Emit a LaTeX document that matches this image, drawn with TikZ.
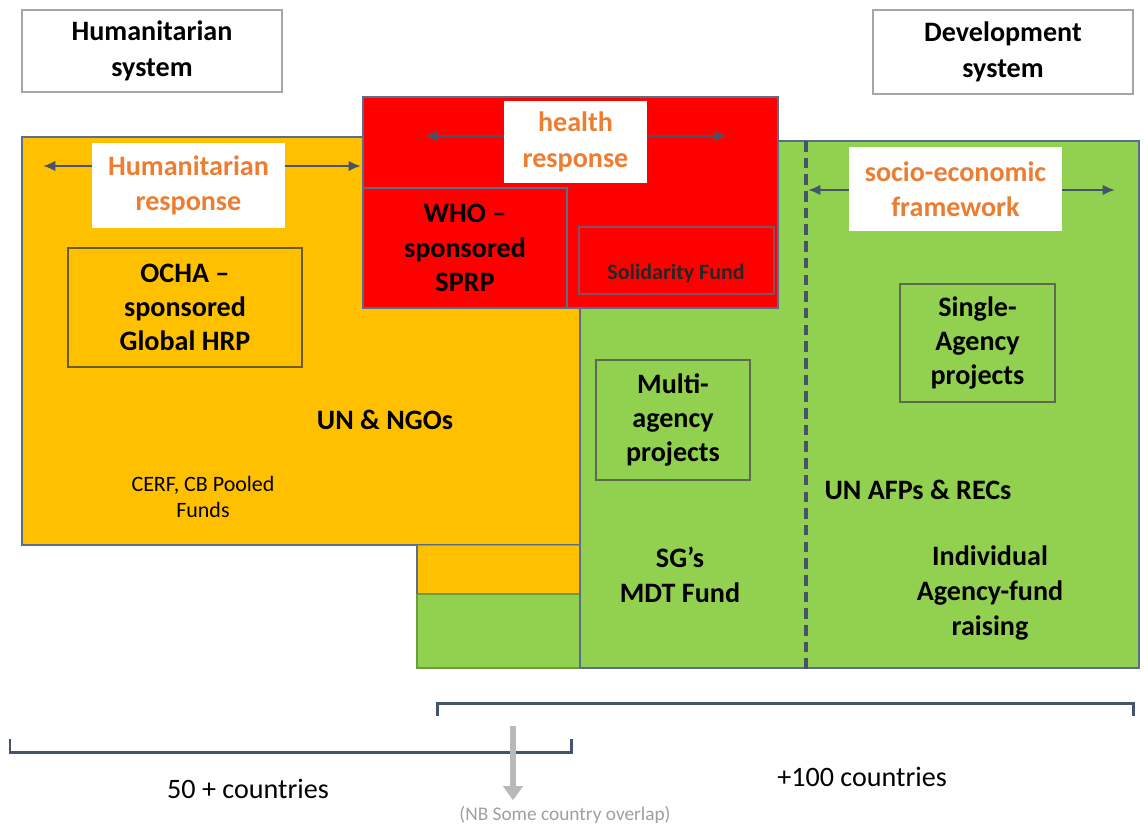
\documentclass[tikz,border=0pt]{standalone}
\usepackage{fontspec}
\setmainfont{Carlito}
\usepackage{tikz}
\usetikzlibrary{positioning,arrows.meta}

\definecolor{humorange}{HTML}{FFC000}
\definecolor{healthred}{HTML}{FF0000}
\definecolor{devgreen}{HTML}{92D050}
\definecolor{tagorange}{HTML}{ED7D31}
\definecolor{slate}{HTML}{44546A}
\definecolor{edge}{HTML}{5A6E8C}

\tikzset{
  sysbox/.style={draw=gray!70, fill=white, line width=0.8pt, align=center,
    font=\fontsize{16}{20.2}\selectfont\bfseries},
  tagbox/.style={fill=white, align=center, text=tagorange,
    font=\fontsize{16}{20.2}\selectfont\bfseries},
  inbox/.style={draw=#1, line width=0.8pt, align=center,
    font=\fontsize{16}{19.5}\selectfont\bfseries},
  lbl/.style={align=center, font=\fontsize{16}{20.2}\selectfont\bfseries},
  span/.style={slate, line width=1.5pt, arrows={-{Latex[length=7pt,width=6pt]}}},
  brace/.style={slate, line width=1.7pt}
}

\begin{document}
\begin{tikzpicture}[x=0.02cm, y=-0.02cm, >=latex]
  \useasboundingbox (0,0) rectangle (1148,825);

  % system headings
  \node[sysbox, minimum width=5.2cm, minimum height=1.64cm] (humsys) at (152,51) {Humanitarian\\system};
  \node[sysbox, minimum width=5.2cm, minimum height=1.68cm] (devsys) at (1003,52) {Development\\system};

  % humanitarian block
  \draw[fill=humorange, draw=edge, line width=0.8pt] (22,137) rectangle (580,545);
  \draw[fill=humorange, draw=humorange!80!black, line width=0.5pt] (417,545) rectangle (580,594);
  \draw[fill=devgreen, draw=devgreen!75!black, line width=0.8pt] (417,594) rectangle (580,668);
  \draw[edge, line width=0.8pt] (22,545) -- (417,545) -- (417,594);

  % development block
  \draw[fill=devgreen, draw=edge, line width=0.8pt] (580,141) rectangle (1139,668);
  \draw[slate, line width=1.8pt, dash pattern=on 6pt off 3.5pt] (806,141) -- (806,672);

  % health block
  \node[fill=healthred, draw=edge, line width=0.8pt, minimum width=8.3cm, minimum height=4.22cm] (health) at (570.5,202.5) {};
  \node[inbox=edge, minimum width=4.08cm, minimum height=2.4cm] (who) at (465,248) {WHO –\\sponsored\\SPRP};
  \node[draw=edge!70!healthred, line width=0.8pt, minimum width=3.9cm, minimum height=1.34cm] (solid) at (676.5,260.5) {};
  \node[font=\fontsize{12.5}{15}\selectfont\bfseries, text=black!85] (solidtxt) at (676,274) {Solidarity Fund};

  % response tags with spans
  \node[tagbox, minimum width=3.86cm, minimum height=1.7cm] (humresp) at (188.5,185.5) {Humanitarian\\response};
  \coordinate (humL) at (43,166);
  \coordinate (humR) at (361,166);
  \draw[span] (humL -| humresp.west) -- (humL);
  \draw[span] (humR -| humresp.east) -- (humR);

  \node[tagbox, minimum width=2.86cm, minimum height=1.64cm] (hlthresp) at (575.5,142) {health\\response};
  \coordinate (hlthL) at (425,136);
  \coordinate (hlthR) at (727,136);
  \draw[span] (hlthL -| hlthresp.west) -- (hlthL);
  \draw[span] (hlthR -| hlthresp.east) -- (hlthR);

  \node[tagbox, minimum width=4.26cm, minimum height=1.68cm] (socio) at (955.5,189) {socio-economic\\framework};
  \coordinate (socL) at (808,190);
  \coordinate (socR) at (1115,190);
  \draw[span] (socL -| socio.west) -- (socL);
  \draw[span] (socR -| socio.east) -- (socR);

  % project boxes
  \node[inbox=gray!60!humorange!60!black, minimum width=4.68cm, minimum height=2.38cm] (ocha) at (185,307.5) {OCHA –\\sponsored\\Global HRP};
  \node[inbox=gray!70!devgreen!70!black, minimum width=3.08cm, minimum height=2.4cm] (multi) at (673,420) {Multi-\\agency\\projects};
  \node[inbox=gray!70!devgreen!70!black, minimum width=3.1cm, minimum height=2.36cm] (single) at (977.5,343) {Single-\\Agency\\projects};

  % actors and funds
  \node[lbl] (ungo) at (385,420) {UN \& NGOs};
  \node[align=center, font=\fontsize{12.5}{15.3}\selectfont] (cerf) at (203,497) {CERF, CB Pooled\\Funds};
  \node[lbl] (mdt) at (680,575) {SG’s\\MDT Fund};
  \node[lbl] (afp) at (918,490) {UN AFPs \& RECs};
  \node[lbl] (indiv) at (990,593) {Individual\\Agency-fund\\raising};

  % country coverage
  \draw[brace] (10,739) -- (10,752) -- (571,752) -- (571,739);
  \draw[brace] (437,716) -- (437,703) -- (1133,703) -- (1133,716);
  \node[font=\fontsize{16}{19}\selectfont] (fifty) at (248,789) {50 + countries};
  \node[font=\fontsize{16}{19}\selectfont] (hundred) at (862,777) {+100 countries};
  \node[font=\fontsize{11}{13}\selectfont, text=gray!75] (overlap) at (565,815) {(NB Some country overlap)};
  \coordinate (ovtop) at (513,726);
  \draw[-{Triangle[width=11pt,length=8pt]}, gray!55, line width=3.2pt] (ovtop) -- (ovtop |- overlap.north);
\end{tikzpicture}
\end{document}
